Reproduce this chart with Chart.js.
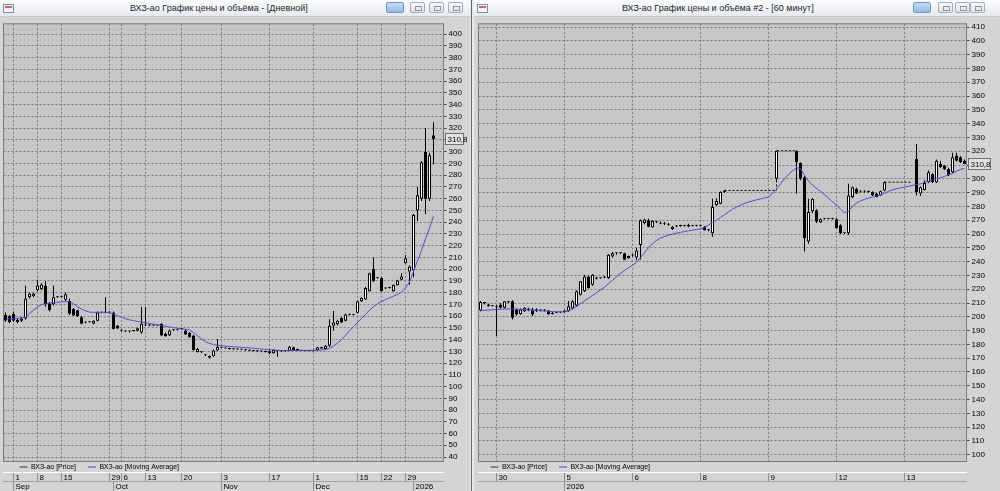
<!DOCTYPE html>
<html><head><meta charset="utf-8">
<script src="https://cdn.jsdelivr.net/npm/chart.js@4/dist/chart.umd.min.js"></script>
<style>
html,body{margin:0;padding:0;width:1000px;height:491px;overflow:hidden;background:#d4d4d4;font-family:"Liberation Sans",Arial,sans-serif;}
.win{position:absolute;top:0;height:491px;background:#d4d4d4;overflow:hidden;}
#w1{left:0;width:470px;}
#w2{left:474px;width:526px;}
.title{position:absolute;left:0;top:0;right:0;height:16px;background:linear-gradient(#fbfcfd,#e5eaf0);border-bottom:1px solid #c3cad3;}
.ttext{position:absolute;top:0;line-height:16px;font-size:9px;color:#1e1e1e;white-space:nowrap;}
.ico{position:absolute;left:3px;top:4px;width:9px;height:7px;border:1px solid #7d8fa3;background:#eef4fa;}
.ico:after{content:"";position:absolute;left:1px;top:1px;width:7px;height:2px;background:#e06060;}
.btn{position:absolute;top:2px;width:15px;height:11px;border:1px solid #a3acb7;border-radius:2px;box-sizing:border-box;background:linear-gradient(#fafafa,#dfe3e8);}
.btn.blue{width:18px;background:linear-gradient(#c7dcf5,#93b8e6);border-color:#7097c8;}
.btn i{position:absolute;left:4px;top:3px;width:5px;height:3px;border:1px solid #8a96a4;}
#sep{position:absolute;left:470px;top:0;width:4px;height:491px;background:#e9e9e9;}
#sep:after{content:"";position:absolute;left:1px;top:0;width:1px;height:491px;background:#5d6874;}
canvas{position:absolute;left:0;top:17px;}
</style>
</head><body>
<div class="win" id="w1">
  <div class="title"><div class="ico"></div>
    <div class="ttext" style="left:130px">ВХЗ-ао График цены и объёма - [Дневной]</div>
    <div class="btn blue" style="left:386px"></div>
    <div class="btn" style="left:410px"><i></i></div>
    <div class="btn" style="left:429px"><i></i></div>
    <div class="btn" style="left:448px"><i></i></div>
  </div>
  <canvas id="c1" width="470" height="474"></canvas>
</div>
<div id="sep"></div>
<div class="win" id="w2">
  <div class="title"><div class="ico"></div>
    <div class="ttext" style="left:148px">ВХЗ-ао График цены и объёма #2 - [60 минут]</div>
    <div class="btn blue" style="left:439px"></div>
    <div class="btn" style="left:464px"><i></i></div>
    <div class="btn" style="left:481px"><i></i></div>
    <div class="btn" style="left:496px"><i></i></div>
  </div>
  <canvas id="c2" width="526" height="474"></canvas>
</div>
<script>
const N = null;
// ---------- Daily chart (left) ----------
const dOpen  = [161,160,162,157,156,158,176,177,182,183,186,171,170,176,177,174,173,166,165,159,154.5,155,153.5,156,163,163,163,163,152,148,147.5,147,147.5,147.5,146,152.5,152,152.1,152,153.5,145,143.5,148,148.3,149,147.7,146,143.5,129.4,129.5,127,126,125.8,130.8,133.7,133,132.5,132,132,131.5,131.8,131,130.6,130.3,130,129.8,130,128.3,130.5,130,130.2,130.6,133.4,132,131,130.6,130.5,130.4,131,132.5,132,134.8,151.7,153,158.5,156,161.4,161.2,162.8,172.7,174.1,181.1,200.3,192.4,192.4,184,184.5,181.1,186.2,191,205.1,198,199,250,260,300,260,314];
const dHigh  = [163,161,164,158,159,186,180,180,191,188,190,172,186,177,177.5,180,175,167,165.5,160,155.5,155.5,156.5,164,163.5,176,164,164,152.5,148.5,148,148,148,150,168,168,153,152.6,152.5,154,146,148.5,148.8,148.8,149.5,148.5,146.5,144,133,130,127.5,126.5,131.5,140.5,134,133.5,133,132.4,132.5,132.3,132,131.5,131,130.8,130.6,130.5,131,131.5,131,130.6,130.8,134.5,134,132.5,131.3,131,131,131,133.8,134,135.5,157.3,164.4,157,159,162,162,161.8,173,176,185,197,209.9,193,193,184.5,185,187,191,196.6,212.1,203,247,270,292,320,299,325];
const dLow   = [155,154,155,154,155,157,175,176,181,182,168,164,169,175.5,176,173,161,160,159.5,153,154,154.5,153,155.5,162.5,162.5,162.5,148.5,149,147,146.5,146,147,147,145,151.5,151.5,151.6,151.5,143,142.5,143,147.5,147.8,148.5,144,141.5,130.5,129,128.5,126,124,125.5,130.5,132.8,132.5,131.5,131.4,131.3,131,130.5,130.3,129.8,129.5,129.3,129,127.5,128,125.5,129.5,129.6,130.2,130.8,130.5,130.3,130,130,129.8,130.8,132,131.5,134,147.5,152,154,155.5,160.8,160.5,162.5,172,174,181,189,192,181,183,183.5,180.8,186,190.5,204.5,186.8,193,241,258,247,258,289];
const dClose = [156,155,156,155,158,175,179,179,186,187,170,165,176,176.5,176,178.7,162,160.5,160,153.5,155,154.8,156,163,163,163.5,163,149,149.5,147.5,147,147.5,147.3,149.6,153.5,152,152.2,152,152,143.5,143,147.7,148.3,148.5,149.2,144.4,142,131,132,129.2,126.6,124.6,130.8,133.7,133,132.5,132,131.8,131.5,131.8,131,130.6,130.3,130,129.8,129.5,128.3,131.2,130,130.2,130.5,134,131,131,130.6,130.5,130.4,130.6,133.4,133.6,134.8,151.7,154.5,156,154.5,161.4,161.2,161.4,172.7,175.5,184,196.6,189.6,192.2,181.1,183.5,184,186.8,190.4,193.8,209.3,202.2,246,263,291,260,297,310.8];
const dMA    = [157.6,157.6,157.7,158,158.5,159.2,162.3,165,167.8,169.8,170.5,171,171.4,171.8,172.1,172.4,172.2,170.5,168,166,164.5,163.4,163.2,163.2,163.2,163.2,162.8,161.7,160.3,159,157.8,156.8,156.1,155.5,155,154.4,153.8,153.2,152.6,152,151.4,150.8,150.2,149.7,149.2,148.8,148.3,146,143.3,140.5,138.2,136.8,135.8,135.2,134.8,134.4,134.1,133.9,133.7,133.5,133.2,132.9,132.6,132.3,132,131.7,131.4,131.2,131,130.8,130.7,130.7,130.7,130.7,130.7,130.7,130.8,130.9,131,131.2,131.5,132.5,134.5,137,140,143.5,147.5,151,154.5,158,161.5,165,168,170.5,172.5,174,175.5,177,178.5,180.5,184,189,198,207,216,226,235,245];
const dDayTickAt    = [2, 8, 14, 26, 29, 35, 44, 54, 66, 77, 88, 94, 100];
const dDayTickText  = ['1','8','15','29','6','13','20','3','17','1','15','22','29'];
const dMonthTickAt   = [2, 27, 54, 77, 102];
const dMonthTickText = ['Sep','Oct','Nov','Dec','2026'];

// ---------- Hourly chart (right) ----------
const hOpen  = [204.6,210,209,207.7,207.7,209,206.5,211,211.3,205.3,202,204,205,205.3,204,205,204.5,204.6,202,203,203.2,203.5,204,206,208,216,218.5,229.3,223.3,227.5,228,228.5,228.1,243.7,246,246,246,242.5,244.5,243,252,268,270,265,268.8,268,267.5,267,263.6,265.5,266,266,266.8,266,266.2,266,265.3,262.8,260.5,281,282,290.5,N,N,N,N,N,N,N,N,N,N,N,N,300,N,N,N,N,320.4,311.5,301.2,254.5,276.5,277.2,268.4,271,271.2,271,270.8,266.4,260.5,260.5,286.8,292.8,291,290.8,291,290.4,289.3,288,291.6,N,N,N,N,N,N,N,314.4,289.3,292,297.6,303.6,297.6,310.8,309.6,307.2,304.8,316.8,315.6,313.2];
const hHigh  = [211.5,210.5,209.5,208,208.5,210,211.5,211.5,212,206,206,207,206.5,206.5,206,205.5,205.5,205,203.5,203.5,203.8,205,211.5,212,219,226,230.5,230,231,229,228.5,229.5,245.5,247,246.5,246.8,246.5,244.5,245.5,250,270.5,271,271,270,269.5,269,268.8,268,265.8,266.5,266.8,266.8,267.5,266.6,266.8,266.5,265.8,263.5,285.6,286,291,292,N,N,N,N,N,N,N,N,N,N,N,N,320.4,N,N,N,N,320.6,312,302,285.6,286,278,271.5,271.7,271.7,271.7,271.5,267,261,296.4,294.5,293.5,291.6,291.6,291.6,291,290,291.5,298,N,N,N,N,N,N,N,325.2,294.5,299,306,304,314,313,310,308,319,319,316.5,314];
const hLow   = [204,209,207.5,207.5,186,206,206,210,198,201,201.5,203.5,204,200.5,203.5,204,204,201.5,201.5,202.5,202.8,203,203.5,205.5,207.5,215.5,218,220.5,222.5,227,227.5,228,227.5,243,245,245.5,241,242,243.5,241,241.5,267,265,264.5,268,267,266.5,266,263,265,265.3,265.5,265,265.5,265.5,265.5,262.5,262,258,280.5,281.5,290,N,N,N,N,N,N,N,N,N,N,N,N,298.8,N,N,N,N,289.2,299,247.3,253,275,268,268,270.5,270.8,270.6,264,260,260,259.3,286,289,290,290,290,287.5,286.5,287.5,291,N,N,N,N,N,N,N,288,287.5,291.5,297,297,297,308,306.5,302,304,312.5,311.5,310.5];
const hClose = [210.8,210,207.7,207.7,207,206.5,211.3,210.5,199.3,201.7,205.3,206.5,206,201.7,205.5,204.5,205,201.7,203,203.2,203.5,204.5,207.7,211.3,218.5,225.7,229.3,220.9,230.5,228.5,228,229,244.9,246,246,246.2,241.3,244,244.5,248,270,270.5,265.3,269.5,268.5,267.5,268.2,266.4,265.3,266,265.8,266.4,265.5,266.2,266,266,262.8,263,279.6,284,290.4,291.6,N,N,N,N,N,N,N,N,N,N,N,N,320.4,N,N,N,N,312,300,256.9,276,285.6,268.9,270.8,271.2,271,271.2,264.1,260.5,260.5,288,294,289.3,290.8,291,290.5,288,286.8,291,297.6,N,N,N,N,N,N,N,290.4,294,297,304.8,297.6,313.2,308.4,306.7,302.4,315.6,313.2,312,310.8];
const hNoTrade = [N,N,N,N,N,N,N,N,N,N,N,N,N,N,N,N,N,N,N,N,N,N,N,N,N,N,N,N,N,N,N,N,N,N,N,N,N,N,N,N,N,N,N,N,N,N,N,N,N,N,N,N,N,N,N,N,N,N,N,N,N,291.6,291.6,291.6,291.6,291.6,291.6,291.6,291.6,291.6,291.6,291.6,291.6,291.6,320.4,320.4,320.4,320.4,320.4,320.4,N,N,N,N,N,N,N,N,N,N,N,N,N,N,N,N,N,N,N,N,N,297.6,297.6,297.6,297.6,297.6,297.6,297.6,297.6,N,N,N,N,N,N,N,N,N,N,N,N,N];
const hMA    = [204.5,204.7,204.9,205.1,205.3,205.5,205.6,205.7,205.6,205.5,205.4,205.2,205,204.8,204.6,204.4,204.2,204,203.8,203.7,203.6,203.6,204.2,205.6,207.5,209.5,211.5,213.5,215.5,217.5,219.5,221.5,224,226.5,229,231.5,233.5,235.5,237.5,239.5,243,246.5,250,253,255.3,257,258.2,259.2,260,260.6,261.2,261.8,262.3,262.8,263.3,263.7,264.8,266.5,268.5,270,272,274,276,278,279.5,281,282.2,283.1,284,284.8,285.5,286.2,286.8,289.5,292.5,296.5,300,303.2,305.8,308,307.5,302.5,298.5,295.5,293,291,288.5,286,283.5,281,278,275.5,276.5,280,282.5,284,285.2,286,286.8,287.5,288.2,289.5,291,292,292.8,293.5,294,294.6,295.2,295.8,296.4,297.3,298.2,299.1,300,300.8,301.8,302.8,304,305.6,306.8,307.7];
const hDayTickAt   = [4, 21, 38, 55, 72, 89, 106];
const hDayTickText = ['30','5','6','8','9','12','13'];
const hYearTickAt   = [21];
const hYearTickText = ['2026'];

const LAST_PRICE = '310,8';
const FONT = '"Liberation Sans", Arial, sans-serif';
const GRID = '#7b7b7b';
const SEP  = '#8e8e8e';
const MA_COLOR = '#4f4fd0';
const PLOT_BG = '#c6c6c6';
const OUTER_BG = '#d4d4d4';
const LEG_PAD = 12;

const panelPlugin = {
  id: 'panel',
  beforeDraw(chart) {
    const {ctx, chartArea: a} = chart;
    ctx.save();
    ctx.fillStyle = OUTER_BG; ctx.fillRect(0, 0, chart.width, chart.height);
    ctx.fillStyle = PLOT_BG; ctx.fillRect(a.left, a.top, a.right - a.left, a.bottom - a.top);
    ctx.restore();
  },
  afterLayout(chart, args, opts) {
    if (chart.legend) {
      chart.legend.left += (opts.legendDx || 0) - LEG_PAD;
      chart.legend.top -= LEG_PAD - 2;
    }
  },
  afterDraw(chart, args, opts) {
    const {ctx, chartArea: a} = chart;
    ctx.save();
    ctx.strokeStyle = '#7a7a7a'; ctx.lineWidth = 1;
    ctx.strokeRect(a.left, a.top, a.right - a.left, a.bottom - a.top);
    const y = Math.round(chart.scales.y.getPixelForValue(opts.last)) + 0.5;
    const x0 = Math.round(a.right) + 1.5;
    ctx.fillStyle = '#e2e2e2'; ctx.strokeStyle = '#6e6e6e';
    ctx.fillRect(x0, y - 6, opts.boxW, 11);
    ctx.strokeRect(x0, y - 6, opts.boxW, 11);
    ctx.fillStyle = '#000'; ctx.font = '8px ' + FONT; ctx.textBaseline = 'middle';
    ctx.fillText(LAST_PRICE, x0 + 2, y);
    ctx.restore();
  }
};

function build(id, p) {
  const n = p.slots;
  const labels = [], body = [], wick = [], up = [], ma = [], gap = [];
  for (let i = 0; i < n; i++) {
    labels.push(String(i));
    const o = i < p.o.length ? p.o[i] : null;
    const c = i < p.c.length ? p.c[i] : null;
    if (o === null || c === null) { body.push(null); wick.push(null); up.push(true); }
    else { body.push([o, c]); wick.push([p.l[i], p.h[i]]); up.push(c >= o); }
    ma.push(i < p.ma.length ? p.ma[i] : null);
    gap.push(p.gap && i < p.gap.length ? p.gap[i] : null);
  }
  const dayMap = new Map(p.dayAt.map((s, k) => [s, p.dayText[k]]));
  const monMap = new Map(p.monAt.map((s, k) => [s, p.monText[k]]));
  const tickFont = {size: 8, family: FONT};
  return new Chart(document.getElementById(id), {
    type: 'bar',
    data: {
      labels,
      datasets: [
        {label: 'ВХЗ-ао [Price]', data: body, order: 1, grouped: false,
         backgroundColor: up.map(u => u ? '#ffffff' : '#000000'), borderColor: '#000000',
         borderWidth: 1, borderSkipped: false, maxBarThickness: 3, barPercentage: 1,
         categoryPercentage: 1, minBarLength: 1, inflateAmount: 0},
        {label: 'ВХЗ-ао [Moving Average]', type: 'line', data: ma, order: 0,
         borderColor: MA_COLOR, borderWidth: 1, pointRadius: 0, tension: 0, fill: false},
        {label: 'wick', data: wick, order: 2, grouped: false, backgroundColor: '#000000',
         borderWidth: 0, maxBarThickness: 1, barPercentage: 1, categoryPercentage: 1,
         minBarLength: 1, inflateAmount: 0},
        {label: 'gap', type: 'line', data: gap, order: 3, borderColor: '#000000',
         borderWidth: 1, borderDash: [2, 2], stepped: true, pointRadius: 0, spanGaps: false, fill: false}
      ]
    },
    options: {
      responsive: false, animation: false, devicePixelRatio: 1, events: [],
      layout: {padding: {left: p.padLeft, top: 3.5, right: 0, bottom: 0.5}},
      plugins: {
        tooltip: {enabled: false},
        legend: {
          display: true, position: 'bottom', align: 'start', maxHeight: 11,
          labels: {
            font: {size: 7, family: FONT}, color: '#000', padding: LEG_PAD, boxHeight: 7,
            usePointStyle: true, pointStyleWidth: 8,
            generateLabels: () => [
              {text: 'ВХЗ-ао [Price]', fillStyle: '#333', strokeStyle: '#333', lineWidth: 1, pointStyle: 'line', hidden: false, datasetIndex: 0, fontColor: '#000'},
              {text: 'ВХЗ-ао [Moving Average]', fillStyle: MA_COLOR, strokeStyle: MA_COLOR, lineWidth: 1, pointStyle: 'line', hidden: false, datasetIndex: 1, fontColor: '#000'}
            ]
          }
        },
        panel: {legendDx: p.legendDx, last: 310.8, boxW: p.boxW}
      },
      scales: {
        x: {
          type: 'category', position: 'bottom', weight: 2000, offset: true,
          grid: {offset: false, lineWidth: 1, drawTicks: true, tickLength: 9, tickWidth: 1,
                 tickBorderDash: [],
                 color: c => dayMap.has(c.index) ? GRID : 'rgba(0,0,0,0)',
                 tickColor: c => dayMap.has(c.index) ? SEP : 'rgba(0,0,0,0)'},
          border: {display: true, color: '#ffffff', width: 1, dash: [2, 2]},
          ticks: {autoSkip: false, maxRotation: 0, minRotation: 0, align: 'start', padding: -9,
                  labelOffset: 2, font: tickFont, color: '#000',
                  callback: (v, i) => dayMap.has(i) ? dayMap.get(i) : ''},
          afterFit: s => { s.height = 9; }
        },
        x2: {
          type: 'category', position: 'bottom', weight: 3000, offset: true, labels,
          grid: {offset: false, drawOnChartArea: false, drawTicks: true, tickLength: 9, tickWidth: 1,
                 tickBorderDash: [],
                 color: c => monMap.has(c.index) ? SEP : 'rgba(0,0,0,0)',
                 tickColor: c => monMap.has(c.index) ? SEP : 'rgba(0,0,0,0)'},
          border: {display: true, color: '#a2a2a2', width: 1},
          ticks: {autoSkip: false, maxRotation: 0, minRotation: 0, align: 'start', padding: -9,
                  labelOffset: 2, font: tickFont, color: '#000',
                  callback: (v, i) => monMap.has(i) ? monMap.get(i) : ''},
          afterFit: s => { s.height = 9; }
        },
        y: {
          position: 'right', min: p.yMin, max: p.yMax,
          afterFit: s => { s.width = p.yWidth; },
          ticks: {stepSize: 10, includeBounds: false, autoSkip: false, font: tickFont, color: '#000', padding: 2,
                  callback: v => String(v)},
          grid: {color: GRID, lineWidth: 1, drawTicks: true, tickLength: 3, tickColor: '#444', tickBorderDash: []},
          border: {display: true, color: '#7a7a7a', dash: [2, 2]}
        }
      }
    },
    plugins: [panelPlugin]
  });
}

build('c1', {
  slots: 110, o: dOpen, h: dHigh, l: dLow, c: dClose, ma: dMA, gap: null,
  dayAt: dDayTickAt, dayText: dDayTickText, monAt: dMonthTickAt, monText: dMonthTickText,
  padLeft: 3.5, yWidth: 26.5, yMin: 36.2, yMax: 408.9, legendDx: 16, boxW: 18
});
build('c2', {
  slots: 122, o: hOpen, h: hHigh, l: hLow, c: hClose, ma: hMA, gap: hNoTrade,
  dayAt: hDayTickAt, dayText: hDayTickText, monAt: hYearTickAt, monText: hYearTickText,
  padLeft: 4.5, yWidth: 33.5, yMin: 95.1, yMax: 412.4, legendDx: 12, boxW: 22
});
</script>
</body></html>
